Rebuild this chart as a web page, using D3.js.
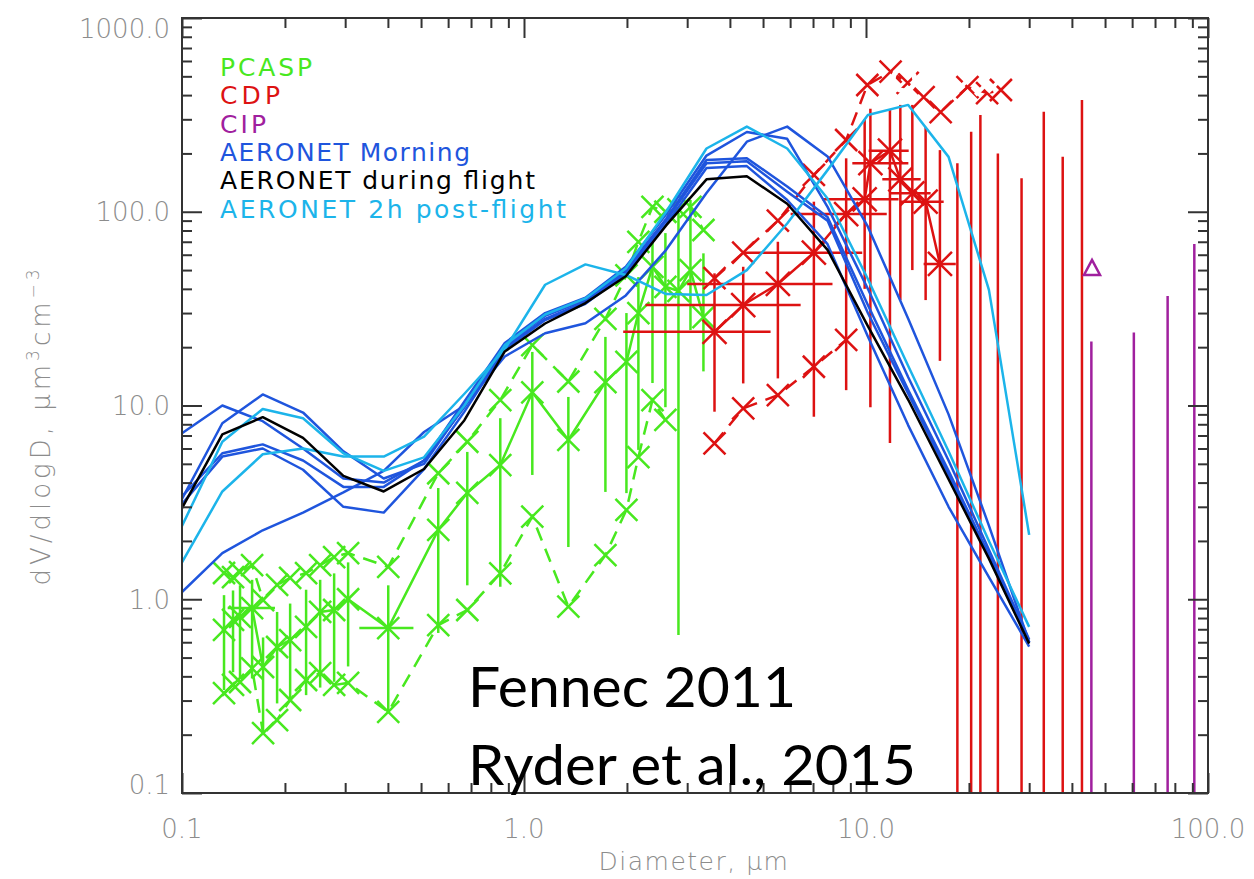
<!DOCTYPE html>
<html>
<head>
<meta charset="utf-8">
<script src="https://cdn.jsdelivr.net/npm/d3@7"></script>
<style>
  body { margin: 0; background: #fff; }
  svg { display: block; }
</style>
</head>
<body>
<svg id="chart" width="1254" height="879"></svg>
<script>
// ---------------- data ----------------
// AERONET inversion size bins (diameter, µm)
const aeronetD = [0.1, 0.1312, 0.1722, 0.2259, 0.2964, 0.3889, 0.5103, 0.6696, 0.8786, 1.1528, 1.5126,
  1.9847, 2.6041, 3.4168, 4.4832, 5.8824, 7.7183, 10.127, 13.288, 17.435, 22.877, 30.0];

// AERONET morning retrievals
const morning1 = [7.2, 10.0, 8.3, 6.0, 4.2, 4.0, 5.2, 10.5, 21, 30, 36, 52, 97, 195, 258, 238, 106, 40, 14, 5.2, 1.8, 0.62];
const morning2 = [3.3, 8.1, 11.4, 9.2, 5.8, 4.2, 5.0, 10.0, 20.5, 29, 35, 50, 92, 185, 189, 135, 94, 33, 12, 4.6, 1.7, 0.6];
const morning3 = [3.4, 5.67, 6.3, 5.2, 3.8, 3.8, 5.2, 9.8, 20, 28, 34.3, 49, 90, 178, 182, 127, 90, 30, 11.5, 4.4, 1.65, 0.6];
const morning4 = [3.1, 5.45, 6.0, 4.66, 3.0, 2.8, 4.7, 9.3, 19.5, 27.6, 33.5, 48, 86, 168, 172, 115, 68, 22.7, 7.9, 3.0, 1.3, 0.57];
const morning5 = [1.09, 1.73, 2.27, 2.8, 3.56, 4.6, 7.3, 10, 17.9, 23.6, 26.6, 37, 63.6, 125, 230, 275, 193, 83.7, 28, 9.0, 2.4, 0.6];
// AERONET during flight
const duringFlight = [2.95, 7.1, 8.7, 6.8, 4.33, 3.6, 4.7, 8.4, 19, 26.5, 33.8, 46.5, 85, 147, 152.5, 110, 63.6, 25.7, 10.7, 4.16, 1.62, 0.59];
// AERONET 2h post-flight
const postFlight1 = [2.39, 6.5, 9.6, 8.6, 5.67, 4.6, 5.4, 10, 20.5, 29.5, 35.7, 51, 100, 212, 275, 212, 117, 45, 16, 5.8, 2.0, 0.72];
const postFlight2 = [1.55, 3.6, 5.6, 6.0, 5.45, 5.45, 6.9, 11.5, 19.5, 42, 53.5, 47.2, 37.6, 37.2, 50, 87, 164, 316, 356, 192, 39.5, 2.15];

// PCASP bins (diameter, µm) and size distributions
const pcaspD = [0.1327, 0.1410, 0.1478, 0.1603, 0.1726, 0.1897, 0.2071, 0.2306, 0.2535, 0.2785, 0.3060, 0.4009,
  0.5614, 0.6826, 0.8524, 1.0575, 1.348, 1.730, 1.993, 2.160, 2.375, 2.591, 2.829, 3.067, 3.347];
const pcaspMean = [0.694, 0.782, 0.81, 0.90, 0.447, 0.567, 0.616, 0.72, 0.86, 0.88, 1.0, 0.71,
  2.28, 3.54, 4.93, 11.7, 6.64, 13.2, 16.8, 30.0, 52, 41, 39, 50, 28.6];
const pcaspMeanLo = [0.34, 0.42, 0.39, 0.39, 0.204, 0.29, 0.30, 0.32, 0.35, 0.375, 0.45, 0.26,
  0.67, 1.18, 1.16, 4.38, 1.86, 3.58, 3.53, 5.9, 13.06, 9.8, 0.654, 24.5, 15];
const pcaspMeanHi = [1.05, 1.11, 1.18, 1.26, 0.635, 0.86, 0.95, 1.12, 1.26, 1.36, 1.55, 1.18,
  3.75, 5.76, 8.6, 18.9, 11.07, 22.6, 30, 46, 71.4, 77.6, 98.5, 115, 61];
const pcaspBinLo = [null, null, null, 0.136, null, null, null, null, null, null, null, 0.33,
  null, null, null, null, null, null, null, null, null, null, null, null, null];
const pcaspBinHi = [null, null, null, 0.187, null, null, null, null, null, null, null, 0.475,
  null, null, null, null, null, null, null, null, null, null, null, null, null];
const pcaspUpper = [1.366, 1.30, 1.38, 1.50, 0.99, 1.185, 1.29, 1.365, 1.50, 1.65, 1.73, 1.47,
  4.47, 6.50, 10.67, 20.5, 13.3, 28.0, 47, 70, 106, 100, 103, 106, 80.5];
const pcaspLower = [0.328, 0.361, 0.374, 0.44, 0.204, 0.238, 0.302, 0.383, 0.416, 0.361, 0.37, 0.262,
  0.736, 0.88, 1.36, 2.67, 0.915, 1.69, 2.89, 5.42, 10.67, 8.42, null, null, null];

// CDP bins, mean distribution and bin / variability ranges
const cdpD = [3.606, 4.375, 5.525, 7.04, 8.75, 9.91, 10.3, 11.75, 12.6, 13.66, 14.94, 16.45];
const cdpMean = [24.0, 33.0, 42.4, 61.5, 97.3, 116, 178, 206.6, 147, 124.5, 112.7, 53.8];
const cdpBinLo = [1.95, 2.265, 3.0, 4.38, 6.02, 7.45, 9.12, 10.18, 11.16, 11.8, 12.6, 14.74];
const cdpBinHi = [5.26, 6.44, 7.98, 9.75, 11.5, 12.45, 13.3, 13.33, 14.45, 15.45, 16.87, 18.3];
const cdpMeanLo = [9.29, 13.0, 13.8, 8.75, 12.0, 40, 9.8, 6.4, 35, 50, 35, 17];
const cdpMeanHi = [48.1, 52, 70, 112.7, 188.7, 300, 340, 335, 356, 356, 274, 208];
const cdpUpperD = [3.606, 4.375, 5.525, 7.04, 8.75, 10.09, 11.8, 13.24, 14.74, 16.53, 19.8, 22.6, 24.8];
const cdpUpper = [45.4, 61.5, 89.9, 154.8, 234.6, 451, 528, 462, 391, 327, 440, 410, 425];
const cdpLowerD = [3.606, 4.375, 5.525, 7.04, 8.75];
const cdpLower = [6.38, 9.67, 11.3, 15.85, 21.8];
const cdpLargeD = [18.5, 20.3, 21.6, 24.3, 28.5, 33.1, 37.6, 42.8];
const cdpLargeHi = [178, 259, 316, 200, 149, 328, 192, 377];

// CIP
const cipD = [45.8];
const cipV = [51.3];
const cipBarD = [45.6, 60.7, 76.2, 91.2];
const cipBarHi = [21.4, 23.8, 36.7, 68.2];

// axis ticks
const xMajor = [0.1, 1, 10, 100];
const yMajor = [0.1, 1, 10, 100, 1000];

const legendLabels = ["PCASP", "CDP", "CIP", "AERONET Morning", "AERONET during flight", "AERONET 2h post-flight"];
const noteLines = ["Fennec 2011", "Ryder et al., 2015"];

// ---------------- styles ----------------
const C = {
  pcasp: "#48e81f",
  cdp: "#dd1212",
  cip: "#a0209e",
  morning: "#1f55dd",
  during: "#000000",
  post: "#1cb4ea",
  axis: "#333333",
  tickText: "#8c8c8c"
};

// ---------------- chart ----------------
const svg = d3.select("#chart");
const x = d3.scaleLog().domain([0.1, 100]).range([182, 1208]);
const y = d3.scaleLog().domain([0.1, 1000]).range([793, 18]);
const [X0, X1] = x.range();
const [Y0, Y1] = y.range();

svg.append("defs").append("clipPath").attr("id", "plotClip")
  .append("rect").attr("x", X0).attr("y", Y1).attr("width", X1 - X0).attr("height", Y0 - Y1);

const plot = svg.append("g").attr("clip-path", "url(#plotClip)");

const line = d3.line()
  .defined(d => d[1] != null)
  .x(d => x(d[0])).y(d => y(d[1]));

const zip = (a, b) => a.map((v, i) => [v, b[i]]);
const cross = (cx, cy, s) => `M${cx - s},${cy - s}L${cx + s},${cy + s}M${cx - s},${cy + s}L${cx + s},${cy - s}`;

function drawCrosses(g, pts, color, s) {
  g.selectAll(null).data(pts.filter(d => d[1] != null)).join("path")
    .attr("d", d => cross(x(d[0]), y(d[1]), s))
    .attr("stroke", color).attr("stroke-width", 2.5).attr("fill", "none");
}

// ---- PCASP ----
const gP = plot.append("g");
gP.selectAll(null).data(pcaspD.map((d, i) => i)).join("line")
  .attr("x1", i => x(pcaspD[i])).attr("x2", i => x(pcaspD[i]))
  .attr("y1", i => y(pcaspMeanLo[i])).attr("y2", i => y(pcaspMeanHi[i]))
  .attr("stroke", C.pcasp).attr("stroke-width", 2.5);
gP.selectAll(null).data(pcaspD.map((d, i) => i).filter(i => pcaspBinLo[i] != null)).join("line")
  .attr("x1", i => x(pcaspBinLo[i])).attr("x2", i => x(pcaspBinHi[i]))
  .attr("y1", i => y(pcaspMean[i])).attr("y2", i => y(pcaspMean[i]))
  .attr("stroke", C.pcasp).attr("stroke-width", 2.5);
gP.append("path").attr("d", line(zip(pcaspD, pcaspMean)))
  .attr("fill", "none").attr("stroke", C.pcasp).attr("stroke-width", 2.5);
gP.append("path").attr("d", line(zip(pcaspD, pcaspUpper)))
  .attr("fill", "none").attr("stroke", C.pcasp).attr("stroke-width", 2.5).attr("stroke-dasharray", "14,9");
gP.append("path").attr("d", line(zip(pcaspD, pcaspLower)))
  .attr("fill", "none").attr("stroke", C.pcasp).attr("stroke-width", 2.5).attr("stroke-dasharray", "14,9");
drawCrosses(gP, zip(pcaspD, pcaspMean), C.pcasp, 11);
drawCrosses(gP, zip(pcaspD, pcaspUpper), C.pcasp, 11);
drawCrosses(gP, zip(pcaspD, pcaspLower), C.pcasp, 11);

// ---- CDP ----
const gC = plot.append("g");
gC.selectAll(null).data(cdpLargeD.map((d, i) => i)).join("line")
  .attr("x1", i => x(cdpLargeD[i])).attr("x2", i => x(cdpLargeD[i]))
  .attr("y1", i => y(cdpLargeHi[i])).attr("y2", y(0.05))
  .attr("stroke", C.cdp).attr("stroke-width", 2.5);
gC.selectAll(null).data(cdpD.map((d, i) => i)).join("line")
  .attr("x1", i => x(cdpD[i])).attr("x2", i => x(cdpD[i]))
  .attr("y1", i => y(cdpMeanLo[i])).attr("y2", i => y(cdpMeanHi[i]))
  .attr("stroke", C.cdp).attr("stroke-width", 2.5);
gC.selectAll(null).data(cdpD.map((d, i) => i)).join("line")
  .attr("x1", i => x(cdpBinLo[i])).attr("x2", i => x(cdpBinHi[i]))
  .attr("y1", i => y(cdpMean[i])).attr("y2", i => y(cdpMean[i]))
  .attr("stroke", C.cdp).attr("stroke-width", 2.5);
gC.append("path").attr("d", line(zip(cdpD, cdpMean)))
  .attr("fill", "none").attr("stroke", C.cdp).attr("stroke-width", 2.5);
gC.append("path").attr("d", line(zip(cdpUpperD, cdpUpper)))
  .attr("fill", "none").attr("stroke", C.cdp).attr("stroke-width", 2.5).attr("stroke-dasharray", "14,9");
gC.append("path").attr("d", line(zip(cdpLowerD, cdpLower)))
  .attr("fill", "none").attr("stroke", C.cdp).attr("stroke-width", 2.5).attr("stroke-dasharray", "14,9");
drawCrosses(gC, zip(cdpD, cdpMean), C.cdp, 12);
drawCrosses(gC, zip(cdpUpperD, cdpUpper), C.cdp, 11);
drawCrosses(gC, zip(cdpLowerD, cdpLower), C.cdp, 11);
// white scratches over the top of the CDP upper-bound curve
gC.append("circle").attr("cx", x(12.9)).attr("cy", y(480)).attr("r", 11)
  .attr("fill", "none").attr("stroke", "#fff").attr("stroke-width", 5);
gC.selectAll(null).data([[19.5, 470], [21.6, 430], [23.5, 445]]).join("path")
  .attr("d", d => `M${x(d[0]) - 5},${y(d[1]) + 6}L${x(d[0]) + 6},${y(d[1]) - 5}`)
  .attr("stroke", "#fff").attr("stroke-width", 4);

// ---- CIP ----
const gI = plot.append("g");
gI.selectAll(null).data(cipBarD.map((d, i) => i)).join("line")
  .attr("x1", i => x(cipBarD[i])).attr("x2", i => x(cipBarD[i]))
  .attr("y1", i => y(cipBarHi[i])).attr("y2", y(0.05))
  .attr("stroke", C.cip).attr("stroke-width", 2.5);
gI.selectAll(null).data(zip(cipD, cipV)).join("path")
  .attr("d", d => {
    const cx = x(d[0]), cy = y(d[1]);
    return `M${cx - 8},${cy + 7}L${cx + 8},${cy + 7}L${cx},${cy - 8}Z`;
  })
  .attr("fill", "none").attr("stroke", C.cip).attr("stroke-width", 2.5);

// ---- AERONET ----
const aeronetSeries = [
  { v: morning1, c: C.morning }, { v: morning2, c: C.morning }, { v: morning3, c: C.morning },
  { v: morning4, c: C.morning }, { v: morning5, c: C.morning },
  { v: postFlight1, c: C.post }, { v: postFlight2, c: C.post },
  { v: duringFlight, c: C.during }
];
plot.append("g").selectAll("path").data(aeronetSeries).join("path")
  .attr("d", s => line(zip(aeronetD, s.v)))
  .attr("fill", "none").attr("stroke", s => s.c).attr("stroke-width", 2.5)
  .attr("stroke-linejoin", "round");

// ---------------- axes ----------------
const minorOf = dom => {
  const out = [];
  for (let e = Math.log10(dom[0]); e < Math.log10(dom[1]) - 1e-9; e++) {
    for (let k = 2; k <= 9; k++) out.push(k * Math.pow(10, e));
  }
  return out;
};
const xMinor = minorOf(x.domain());
const yMinor = minorOf(y.domain());

function tickGroup(axis, tr, vals, size) {
  const g = svg.append("g").attr("transform", tr)
    .call(axis.tickValues(vals).tickSize(size).tickFormat(""));
  g.select(".domain").remove();
  g.selectAll("line").attr("stroke", C.axis).attr("stroke-width", 2);
}
tickGroup(d3.axisBottom(x), `translate(0,${Y0})`, xMajor, -20);
tickGroup(d3.axisBottom(x), `translate(0,${Y0})`, xMinor, -10);
tickGroup(d3.axisTop(x), `translate(0,${Y1})`, xMajor, -20);
tickGroup(d3.axisTop(x), `translate(0,${Y1})`, xMinor, -10);
tickGroup(d3.axisLeft(y), `translate(${X0},0)`, yMajor, -20);
tickGroup(d3.axisLeft(y), `translate(${X0},0)`, yMinor, -10);
tickGroup(d3.axisRight(y), `translate(${X1},0)`, yMajor, -20);
tickGroup(d3.axisRight(y), `translate(${X1},0)`, yMinor, -10);

svg.append("rect").attr("x", X0).attr("y", Y1).attr("width", X1 - X0).attr("height", Y0 - Y1)
  .attr("fill", "none").attr("stroke", C.axis).attr("stroke-width", 2);

const fmt = d3.format(".1f");
const tickFont = "'DejaVu Sans', sans-serif";
svg.append("g").selectAll("text").data(yMajor).join("text")
  .attr("x", X0 - 12)
  .attr("y", d => Math.min(Math.max(y(d), Y1 + 11), Y0 - 8))
  .attr("dy", "0.36em")
  .attr("text-anchor", "end")
  .attr("font-family", tickFont).attr("font-weight", 300).attr("font-size", 26)
  .attr("fill", C.tickText)
  .text(d => fmt(d));
svg.append("g").selectAll("text").data(xMajor).join("text")
  .attr("x", d => x(d)).attr("y", Y0 + 45)
  .attr("text-anchor", "middle")
  .attr("font-family", tickFont).attr("font-weight", 300).attr("font-size", 26)
  .attr("fill", C.tickText)
  .text(d => fmt(d));

// axis titles
svg.append("text")
  .attr("x", (X0 + X1) / 2 - 1).attr("y", 870)
  .attr("text-anchor", "middle")
  .attr("font-family", tickFont).attr("font-weight", 300).attr("font-size", 25)
  .attr("letter-spacing", 1.5)
  .attr("fill", C.tickText)
  .text("Diameter, μm");

const yTitle = svg.append("text")
  .attr("transform", `translate(50,${(Y0 + Y1) / 2 + 20}) rotate(-90)`)
  .attr("text-anchor", "middle")
  .attr("font-family", tickFont).attr("font-weight", 300).attr("font-size", 26)
  .attr("letter-spacing", 4)
  .attr("fill", C.tickText);
yTitle.append("tspan").text("dV/dlogD, μm");
yTitle.append("tspan").attr("dy", -11).attr("font-size", 17).text("3");
yTitle.append("tspan").attr("dy", 11).text("cm");
yTitle.append("tspan").attr("dy", -11).attr("font-size", 17).text("−3");

// ---------------- legend ----------------
const legendColors = [C.pcasp, C.cdp, C.cip, C.morning, C.during, C.post];
const legendWidths = [92, 60, 46, 250, 315, 346];
svg.append("g").selectAll("text").data(legendLabels).join("text")
  .attr("x", 220)
  .attr("y", (d, i) => 76 + i * 28.3)
  .attr("font-family", tickFont).attr("font-size", 25)
  .attr("fill", (d, i) => legendColors[i])
  .attr("textLength", (d, i) => legendWidths[i])
  .attr("lengthAdjust", "spacing")
  .text(d => d);

// ---------------- annotation ----------------
const noteWidths = [328, 448];
svg.append("g").selectAll("text").data(noteLines).join("text")
  .attr("x", 468)
  .attr("y", (d, i) => 707 + i * 78)
  .attr("font-family", "Lato, 'Liberation Sans', sans-serif")
  .attr("font-size", 56)
  .attr("fill", "#000")
  .attr("textLength", (d, i) => noteWidths[i])
  .attr("lengthAdjust", "spacingAndGlyphs")
  .text(d => d);
</script>
</body>
</html>
